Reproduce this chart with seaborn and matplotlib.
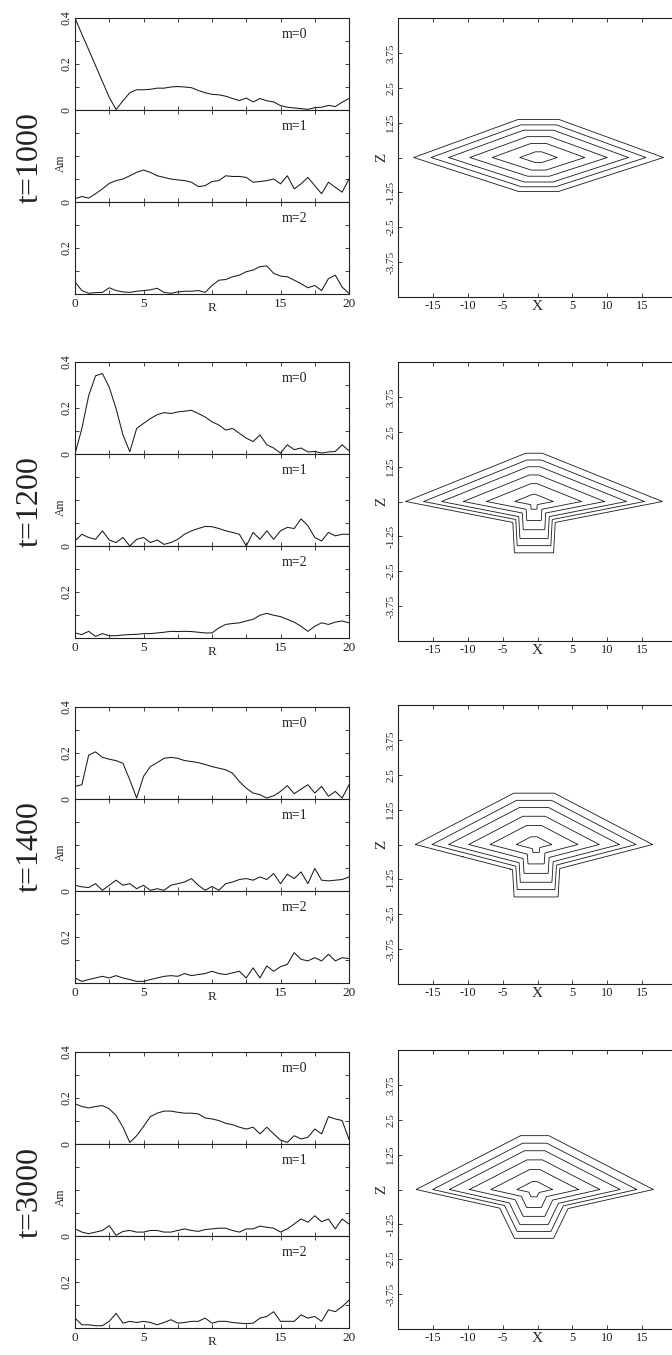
import numpy as np
import pandas as pd
import matplotlib
matplotlib.use("Agg")
import matplotlib.pyplot as plt
import seaborn as sns

# ---------------- data (R = 0..20 step 0.5) ----------------
times = ["t=1000", "t=1200", "t=1400", "t=3000"]
modes = ["m=0", "m=1", "m=2"]

m0_1000 = [0.400, 0.330, 0.262, 0.193, 0.124, 0.055, 0.002, 0.040, 0.075, 0.088, 0.088, 0.090, 0.095, 0.095,
           0.100, 0.102, 0.100, 0.097, 0.085, 0.075, 0.068, 0.066, 0.060, 0.050, 0.041, 0.052, 0.035, 0.050,
           0.040, 0.035, 0.019, 0.012, 0.009, 0.006, 0.003, 0.010, 0.012, 0.020, 0.015, 0.034, 0.050]
m1_1000 = [0.014, 0.024, 0.017, 0.036, 0.057, 0.081, 0.093, 0.100, 0.114, 0.129, 0.139, 0.129, 0.114, 0.107,
           0.100, 0.096, 0.093, 0.086, 0.067, 0.071, 0.089, 0.093, 0.114, 0.111, 0.111, 0.107, 0.086, 0.089,
           0.093, 0.100, 0.079, 0.114, 0.057, 0.079, 0.107, 0.071, 0.036, 0.086, 0.064, 0.043, 0.100]
m2_1000 = [0.052, 0.015, 0.003, 0.006, 0.007, 0.027, 0.015, 0.009, 0.007, 0.012, 0.015, 0.018, 0.025, 0.007,
           0.003, 0.009, 0.012, 0.012, 0.015, 0.007, 0.037, 0.060, 0.063, 0.075, 0.082, 0.097, 0.104, 0.119,
           0.122, 0.090, 0.078, 0.075, 0.060, 0.045, 0.027, 0.037, 0.015, 0.067, 0.082, 0.030, 0.003]

m0_1200 = [0.000, 0.111, 0.254, 0.340, 0.350, 0.290, 0.197, 0.083, 0.010, 0.111, 0.133, 0.154, 0.171, 0.180,
           0.176, 0.183, 0.186, 0.190, 0.176, 0.161, 0.140, 0.126, 0.104, 0.111, 0.090, 0.069, 0.054, 0.083,
           0.040, 0.026, 0.004, 0.040, 0.019, 0.026, 0.009, 0.011, 0.004, 0.009, 0.011, 0.040, 0.014]
m1_1200 = [0.022, 0.051, 0.037, 0.029, 0.066, 0.026, 0.015, 0.037, 0.000, 0.029, 0.037, 0.015, 0.026, 0.007,
           0.015, 0.029, 0.051, 0.066, 0.076, 0.085, 0.084, 0.076, 0.066, 0.059, 0.051, 0.000, 0.059, 0.029,
           0.066, 0.029, 0.066, 0.081, 0.076, 0.118, 0.088, 0.037, 0.022, 0.059, 0.044, 0.051, 0.051]
m2_1200 = [0.022, 0.015, 0.029, 0.007, 0.019, 0.010, 0.010, 0.013, 0.015, 0.016, 0.019, 0.019, 0.022, 0.025,
           0.029, 0.028, 0.029, 0.028, 0.025, 0.022, 0.022, 0.044, 0.059, 0.063, 0.066, 0.074, 0.081, 0.099,
           0.107, 0.099, 0.093, 0.081, 0.069, 0.051, 0.029, 0.051, 0.066, 0.059, 0.069, 0.074, 0.066]

m0_1400 = [0.055, 0.062, 0.191, 0.205, 0.181, 0.173, 0.167, 0.155, 0.083, 0.004, 0.098, 0.141, 0.158, 0.177,
           0.181, 0.177, 0.167, 0.163, 0.158, 0.150, 0.141, 0.134, 0.127, 0.112, 0.076, 0.047, 0.026, 0.019,
           0.004, 0.014, 0.033, 0.058, 0.023, 0.043, 0.062, 0.026, 0.055, 0.012, 0.033, 0.004, 0.062]
m1_1400 = [0.025, 0.018, 0.015, 0.032, 0.003, 0.025, 0.047, 0.025, 0.032, 0.010, 0.025, 0.003, 0.010, 0.003,
           0.025, 0.032, 0.039, 0.054, 0.025, 0.003, 0.020, 0.003, 0.032, 0.039, 0.050, 0.054, 0.047, 0.061,
           0.050, 0.076, 0.032, 0.073, 0.054, 0.083, 0.032, 0.098, 0.047, 0.044, 0.047, 0.050, 0.061]
m2_1400 = [0.022, 0.007, 0.015, 0.022, 0.029, 0.022, 0.032, 0.022, 0.015, 0.007, 0.007, 0.015, 0.022, 0.029,
           0.032, 0.029, 0.041, 0.032, 0.037, 0.041, 0.051, 0.041, 0.037, 0.044, 0.051, 0.022, 0.066, 0.022,
           0.074, 0.051, 0.071, 0.081, 0.132, 0.103, 0.096, 0.110, 0.096, 0.125, 0.096, 0.110, 0.106]

m0_3000 = [0.175, 0.163, 0.157, 0.163, 0.167, 0.153, 0.124, 0.073, 0.007, 0.036, 0.076, 0.119, 0.134, 0.143,
           0.143, 0.138, 0.134, 0.134, 0.131, 0.113, 0.109, 0.102, 0.090, 0.084, 0.073, 0.065, 0.073, 0.044,
           0.073, 0.044, 0.017, 0.007, 0.036, 0.022, 0.029, 0.065, 0.044, 0.119, 0.109, 0.102, 0.020]
m1_3000 = [0.031, 0.017, 0.010, 0.017, 0.024, 0.045, 0.003, 0.020, 0.024, 0.017, 0.017, 0.024, 0.024, 0.017,
           0.017, 0.024, 0.031, 0.024, 0.020, 0.028, 0.031, 0.034, 0.034, 0.024, 0.017, 0.031, 0.031, 0.043,
           0.038, 0.034, 0.017, 0.031, 0.052, 0.074, 0.060, 0.088, 0.062, 0.074, 0.031, 0.074, 0.052]
m2_3000 = [0.043, 0.014, 0.014, 0.010, 0.010, 0.029, 0.064, 0.021, 0.029, 0.024, 0.029, 0.024, 0.014, 0.024,
           0.036, 0.021, 0.024, 0.029, 0.029, 0.043, 0.021, 0.029, 0.029, 0.024, 0.021, 0.019, 0.021, 0.043,
           0.050, 0.071, 0.029, 0.029, 0.029, 0.057, 0.043, 0.050, 0.029, 0.079, 0.071, 0.093, 0.121]

curves = [[m0_1000, m1_1000, m2_1000],
          [m0_1200, m1_1200, m2_1200],
          [m0_1400, m1_1400, m2_1400],
          [m0_3000, m1_3000, m2_3000]]

# contour (X-Z density) shape parameters
disk_center = [0.15, -0.5, -0.5, -0.4]     # X centre of the lozenge
disk_half = [17.9, 18.4, 17.0, 17.0]       # half length in X of outer contour
top_slope_b = [1.63, 1.85, 2.22, 2.19]     # Z intercept of upper diamond edge
top_cap = [1.36, 1.73, 1.84, 1.93]         # flat top of outer contour
bot_slope_b = [1.45, 0.90, 1.10, 0.95]
bot_cap = [1.22, 0.90, 1.10, 0.95]
stem_center = [0.0, -0.5, -0.2, -0.5]      # downward extension below centre
stem_half = [0.0, 3.2, 3.6, 6.2]
stem_b = [1.0, 15.0, 15.0, 3.2]
stem_cap = [1.0, 1.84, 1.88, 1.75]
contour_levels = [0.15, 0.37, 0.55, 0.72, 0.86, 1.0]

x_ticks_R = [0, 2.5, 5, 7.5, 10, 12.5, 15, 17.5, 20]
x_ticklabels_R = ["0", "", "5", "", "", "", "15", "", "20"]
x_ticks_X = [-15, -10, -5, 0, 5, 10, 15]
x_ticklabels_X = ["-15", "-10", "-5", "", "5", "10", "15"]
y_ticks_Z = [-3.75, -2.5, -1.25, 0, 1.25, 2.5, 3.75]
y_ticklabels_Z = ["-3.75", "-2.5", "-1.25", "", "1.25", "2.5", "3.75"]

# ---------------- style ----------------
sns.set_theme(style="ticks")
plt.rcParams["font.family"] = ["Liberation Serif", "DejaVu Serif"]
plt.rcParams.update({
    "xtick.direction": "in", "ytick.direction": "in",
    "xtick.top": True, "ytick.right": True,
    "xtick.major.size": 3, "ytick.major.size": 3,
    "xtick.major.width": 0.6, "ytick.major.width": 0.6,
    "axes.linewidth": 0.8, "axes.edgecolor": "#222222",
    "xtick.color": "#222222", "ytick.color": "#222222",
    "text.color": "#222222",
})

W, H = 672, 1355
fig = plt.figure(figsize=(W / 100, H / 100), dpi=100)

left_x0, left_w = 75, 274
sub_h = 92
row_tops = [18, 362, 707, 1052]
right_x0, right_w, right_h = 398, 279, 279
right_tops = [18, 362, 705, 1050]

ink = "#1a1a1a"


def lozenge(dx, dz, a, b, cap):
    return np.maximum(np.abs(dx) / a + np.abs(dz) / b, np.abs(dz) / cap)


xg = np.linspace(-20, 20, 801)
zg = np.linspace(-5, 5, 501)
XX, ZZ = np.meshgrid(xg, zg)

for r in range(4):
    top = row_tops[r]
    # ---- left: three stacked Am(R) panels ----
    for k in range(3):
        y_top = top + k * sub_h
        ax = fig.add_axes([left_x0 / W, 1 - (y_top + sub_h) / H, left_w / W, sub_h / H])
        vals = curves[r][k]
        df = pd.DataFrame({"R": np.linspace(0, 20, len(vals)), "Am": vals})
        sns.lineplot(data=df, x="R", y="Am", ax=ax, color=ink, lw=0.75)
        ax.set_xlim(0, 20)
        ax.set_ylim(0, 0.4)
        ax.set_xticks(x_ticks_R)
        ax.set_yticks([0, 0.1, 0.2, 0.3, 0.4])
        if k == 0:
            ylabs = ["0", "", "0.2", "", "0.4"]
        elif k == 1:
            ylabs = ["0", "", "", "", ""]
        else:
            ylabs = ["", "", "0.2", "", ""]
        ax.set_yticklabels(ylabs)
        ax.tick_params(axis="y", labelrotation=90, labelsize=8.5, pad=2)
        for lab in ax.get_yticklabels():
            lab.set_va("center")
        if k == 2:
            ax.set_xticklabels(x_ticklabels_R)
            ax.tick_params(axis="x", labelsize=9.5, pad=3)
            ax.set_xlabel("R", fontsize=9.5)
            ax.xaxis.set_label_coords(0.5, -0.085)
        else:
            ax.set_xticklabels([])
            ax.set_xlabel("")
        if k == 1:
            ax.set_ylabel("Am", fontsize=8.5)
            ax.yaxis.set_label_coords(-0.03, 0.42)
        else:
            ax.set_ylabel("")
        ax.text(0.8, 0.82, modes[k], transform=ax.transAxes, ha="center", va="center", fontsize=10)

    # ---- time label ----
    fig.text(30 / W, 1 - (top + 1.5 * sub_h + 2) / H, times[r], rotation=90,
             ha="center", va="center", fontsize=23)

    # ---- right: X-Z contour panel ----
    rt = right_tops[r]
    axr = fig.add_axes([right_x0 / W, 1 - (rt + right_h) / H, right_w / W, right_h / H])
    dx = XX - disk_center[r]
    F = np.where(ZZ >= 0,
                 lozenge(dx, ZZ, disk_half[r], top_slope_b[r], top_cap[r]),
                 lozenge(dx, ZZ, disk_half[r], bot_slope_b[r], bot_cap[r]))
    if stem_half[r] > 0:
        Fs = np.where(ZZ < 0,
                      lozenge(XX - stem_center[r], ZZ, stem_half[r], stem_b[r], stem_cap[r]), 50.0)
        F = np.minimum(F, Fs)
    axr.contour(XX, ZZ, F, levels=contour_levels, colors=ink, linewidths=0.6)
    axr.set_xlim(-20, 20)
    axr.set_ylim(-5, 5)
    axr.set_xticks(x_ticks_X)
    axr.set_xticklabels(x_ticklabels_X)
    axr.set_yticks(y_ticks_Z)
    axr.set_yticklabels(y_ticklabels_Z)
    axr.tick_params(axis="x", labelsize=9, pad=2)
    axr.tick_params(axis="y", labelrotation=90, labelsize=8, pad=2)
    for lab in axr.get_yticklabels():
        lab.set_va("center")
    axr.set_xlabel("X", fontsize=11)
    axr.xaxis.set_label_coords(0.5, -0.012)
    axr.set_ylabel("Z", fontsize=11)
    axr.yaxis.set_label_coords(-0.035, 0.5)

fig.savefig("out.png", dpi=100)
